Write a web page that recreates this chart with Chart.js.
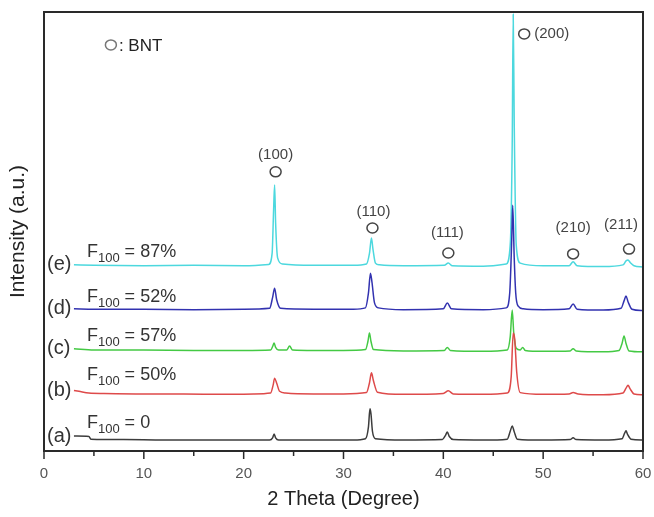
<!DOCTYPE html>
<html>
<head>
<meta charset="utf-8">
<script src="https://cdn.jsdelivr.net/npm/chart.js@4/dist/chart.umd.min.js"></script>
<style>
  html, body { margin: 0; padding: 0; background: #fff; }
  #wrap { width: 654px; height: 517px; }
</style>
</head>
<body>
<div id="wrap"><canvas id="xrd" width="654" height="517"></canvas></div>
<script>
// XRD-дані (2θ, інтенсивність у відн. од.)
const thetaA = [3.0, 3.3, 4.5, 4.7, 8, 12, 16, 20, 22.6, 22.9, 23.05, 23.2, 23.5, 27, 31, 32.2, 32.5, 32.65, 32.75, 32.9, 33.2, 36, 39.9, 40.2, 40.4, 40.6, 41, 44, 46.4, 46.7, 46.9, 47.1, 47.4, 50, 52.7, 53.0, 53.3, 56, 57.9, 58.15, 58.3, 58.45, 58.8, 60];
const intA   = [3.4, 3.4, 3.3, 2.7, 2.6, 2.5, 2.5, 2.5, 2.5, 3.0, 3.9, 3.0, 2.5, 2.5, 2.5, 2.8, 5.5, 9.6, 8.5, 4.5, 2.8, 2.5, 2.6, 3.5, 4.3, 3.3, 2.6, 2.5, 2.7, 4.5, 5.7, 4.4, 2.7, 2.5, 2.6, 3.0, 2.6, 2.5, 2.8, 4.0, 4.6, 3.8, 2.7, 2.5];

const thetaB = [3.0, 3.5, 4.5, 6, 10, 14, 18, 21, 22.7, 22.95, 23.1, 23.3, 23.6, 24.2, 27, 30, 32.3, 32.6, 32.8, 33.0, 33.4, 36, 40.0, 40.5, 41.0, 44, 46.4, 46.8, 47.0, 47.15, 47.35, 47.7, 50, 52.6, 53.0, 53.5, 56, 58.0, 58.3, 58.5, 58.7, 59.1, 60];
const intB   = [13.8, 13.6, 13.2, 13.1, 13.0, 13.0, 12.9, 13.0, 13.2, 15.0, 16.6, 15.5, 13.6, 13.2, 13.0, 13.0, 13.3, 15.5, 17.8, 16.0, 13.4, 12.9, 13.1, 13.7, 13.0, 12.9, 13.2, 17.0, 26.9, 25.5, 18.0, 13.3, 12.9, 13.0, 13.3, 13.0, 12.8, 13.2, 14.3, 15.0, 14.2, 13.0, 12.8];

const thetaC = [3.0, 5, 10, 15, 20, 22.7, 22.9, 23.05, 23.2, 23.5, 24.3, 24.6, 24.9, 27, 30, 32.2, 32.45, 32.6, 32.75, 33.0, 36, 40.1, 40.4, 40.7, 44, 46.4, 46.7, 46.9, 47.05, 47.3, 47.7, 47.95, 48.2, 50, 52.7, 53.0, 53.3, 56, 57.6, 57.9, 58.1, 58.3, 58.6, 60];
const intC   = [23.3, 23.0, 23.0, 22.9, 22.9, 23.0, 23.8, 24.6, 23.6, 23.0, 23.0, 23.9, 23.0, 22.9, 22.9, 23.1, 25.0, 26.9, 25.0, 23.1, 22.8, 22.9, 23.6, 22.9, 22.7, 23.0, 26.0, 32.1, 27.0, 23.4, 23.0, 23.6, 22.9, 22.7, 22.8, 23.3, 22.8, 22.6, 22.9, 24.5, 26.2, 24.5, 22.8, 22.6];

const thetaD = [3.0, 5, 10, 15, 20, 22.6, 22.9, 23.1, 23.3, 23.7, 27, 31, 32.2, 32.5, 32.7, 32.85, 33.1, 33.5, 36, 40.0, 40.4, 40.8, 44, 46.3, 46.65, 46.85, 46.95, 47.1, 47.25, 47.5, 48, 50, 52.6, 53.0, 53.4, 56, 57.8, 58.1, 58.3, 58.5, 58.9, 60];
const intD   = [32.4, 32.3, 32.3, 32.2, 32.3, 32.5, 35.0, 37.1, 34.5, 32.5, 32.3, 32.3, 32.6, 36.0, 40.5, 38.5, 33.8, 32.6, 32.2, 32.4, 33.7, 32.4, 32.2, 32.6, 36.0, 48.0, 56.0, 44.0, 36.0, 33.0, 32.4, 32.2, 32.4, 33.5, 32.3, 32.1, 32.5, 34.2, 35.3, 34.0, 32.3, 32.0];

const thetaE = [3.0, 5, 10, 15, 20, 22.5, 22.85, 23.0, 23.1, 23.2, 23.4, 23.9, 27, 31, 32.3, 32.6, 32.8, 32.95, 33.2, 33.6, 36, 40.1, 40.5, 40.9, 44, 46.3, 46.7, 46.9, 47.0, 47.1, 47.3, 47.7, 50, 52.6, 53.0, 53.4, 56, 58.0, 58.3, 58.5, 58.7, 59.1, 60];
const intE   = [42.4, 42.3, 42.2, 42.3, 42.2, 42.5, 45.0, 55.0, 60.6, 52.0, 44.0, 42.6, 42.3, 42.3, 42.6, 45.0, 48.5, 46.0, 42.8, 42.4, 42.2, 42.3, 42.8, 42.2, 42.1, 42.6, 47.0, 70.0, 99.5, 75.0, 47.0, 42.8, 42.2, 42.2, 43.1, 42.2, 42.0, 42.4, 43.3, 43.5, 43.0, 42.2, 41.9];

// підписи зразків
const sampleTags  = ['(a)', '(b)', '(c)', '(d)', '(e)'];
const f100Values  = ['0', '50%', '57%', '52%', '87%'];
const sampleColors = ['#3c3c3c', '#de4a4a', '#44c944', '#3232b0', '#4cd8de'];
const fLabelY     = [5.2, 16.2, 25.1, 33.9, 44.2];

// піки BNT
const peakNames  = ['(100)', '(110)', '(111)', '(210)', '(211)'];
const peakTextX  = [23.2, 33.0, 40.4, 53.0, 57.8];
const peakTextY  = [67.4, 54.4, 49.7, 50.8, 51.5];
const peakMarkX  = [23.2, 32.9, 40.5, 53.0, 58.6];
const peakMarkY  = [63.6, 50.8, 45.1, 44.9, 46.0];
const mainPeak   = { name: '(200)', x: 48.1, y: 95.0 };
const bntMark    = { x: 6.7, y: 92.5 };

const seriesX = [thetaA, thetaB, thetaC, thetaD, thetaE];
const seriesY = [intA, intB, intC, intD, intE];

const datasets = seriesX.map((xs, i) => ({
  label: sampleTags[i],
  data: xs.map((t, k) => ({ x: t, y: seriesY[i][k] })),
  borderColor: sampleColors[i],
  borderWidth: 1.5,
  pointRadius: 0,
  cubicInterpolationMode: 'monotone',
  fill: false
}));

function ring(ctx, x, y) {
  ctx.beginPath();
  ctx.ellipse(x, y, 5.5, 5, 0, 0, Math.PI * 2);
  ctx.stroke();
}

const decor = {
  id: 'decor',
  afterDatasetsDraw(chart) {
    const { ctx, chartArea: a, scales: { x, y } } = chart;
    ctx.save();

    // рамка
    ctx.strokeStyle = '#2a2a2a';
    ctx.lineWidth = 2;
    ctx.strokeRect(a.left, a.top, a.right - a.left, a.bottom - a.top);

    // поділки осі X
    ctx.lineWidth = 1.5;
    for (let v = 0; v <= 60; v += 5) {
      const px = x.getPixelForValue(v);
      const len = v % 10 === 0 ? 8 : 5;
      ctx.beginPath();
      ctx.moveTo(px, a.bottom);
      ctx.lineTo(px, a.bottom + len);
      ctx.stroke();
    }

    // (a)..(e) та F100
    ctx.fillStyle = '#333';
    sampleTags.forEach((tag, i) => {
      ctx.font = '20px Arial, "Liberation Sans", sans-serif';
      ctx.textAlign = 'left';
      ctx.textBaseline = 'middle';
      ctx.fillText(tag, x.getPixelForValue(0.3), y.getPixelForValue(seriesY[i][0]));

      const bx = x.getPixelForValue(4.3);
      const by = y.getPixelForValue(fLabelY[i]);
      ctx.textBaseline = 'alphabetic';
      ctx.font = '18px Arial, "Liberation Sans", sans-serif';
      ctx.fillText('F', bx, by);
      let w = ctx.measureText('F').width;
      ctx.font = '13px Arial, "Liberation Sans", sans-serif';
      ctx.fillText('100', bx + w, by + 5);
      w += ctx.measureText('100').width;
      ctx.font = '18px Arial, "Liberation Sans", sans-serif';
      ctx.fillText(' = ' + f100Values[i], bx + w, by);
    });

    // кружечки BNT
    ctx.strokeStyle = '#444';
    ctx.lineWidth = 1.5;
    ctx.fillStyle = '#444';
    ctx.font = '15px Arial, "Liberation Sans", sans-serif';
    ctx.textAlign = 'center';
    ctx.textBaseline = 'middle';
    peakNames.forEach((name, i) => {
      ctx.fillText(name, x.getPixelForValue(peakTextX[i]), y.getPixelForValue(peakTextY[i]));
      ring(ctx, x.getPixelForValue(peakMarkX[i]), y.getPixelForValue(peakMarkY[i]));
    });
    const mx = x.getPixelForValue(mainPeak.x), my = y.getPixelForValue(mainPeak.y);
    ring(ctx, mx, my);
    ctx.textAlign = 'left';
    ctx.fillText(mainPeak.name, mx + 10, my);

    // легенда "O: BNT"
    const lx = x.getPixelForValue(bntMark.x), ly = y.getPixelForValue(bntMark.y);
    ctx.strokeStyle = '#777';
    ring(ctx, lx, ly);
    ctx.fillStyle = '#222';
    ctx.font = '17px Arial, "Liberation Sans", sans-serif';
    ctx.fillText(': BNT', lx + 8, ly + 1);

    ctx.restore();
  }
};

new Chart(document.getElementById('xrd'), {
  type: 'line',
  data: { datasets },
  options: {
    responsive: false,
    animation: false,
    layout: { padding: { left: 0, right: 11, top: 12, bottom: 0 } },
    plugins: { legend: { display: false }, tooltip: { enabled: false } },
    scales: {
      x: {
        type: 'linear',
        min: 0,
        max: 60,
        grid: { display: false, drawTicks: false },
        border: { display: false },
        ticks: {
          stepSize: 5,
          autoSkip: false,
          maxRotation: 0,
          padding: 14,
          color: '#555',
          font: { family: 'Arial, "Liberation Sans", sans-serif', size: 15 },
          callback: v => (v % 10 === 0 ? v : '')
        },
        title: {
          display: true,
          text: '2 Theta (Degree)',
          color: '#222',
          padding: { top: 0, bottom: 6 },
          font: { family: 'Arial, "Liberation Sans", sans-serif', size: 20 }
        },
        afterFit: s => { s.height = 66; s.paddingLeft = 0; s.paddingRight = 0; }
      },
      y: {
        min: 0,
        max: 100,
        grid: { display: false, drawTicks: false },
        border: { display: false },
        ticks: { display: false },
        title: {
          display: true,
          text: 'Intensity (a.u.)',
          color: '#222',
          padding: { top: 6, bottom: 0 },
          font: { family: 'Arial, "Liberation Sans", sans-serif', size: 21 }
        },
        afterFit: s => { s.width = 44; }
      }
    }
  },
  plugins: [decor]
});
</script>
</body>
</html>
